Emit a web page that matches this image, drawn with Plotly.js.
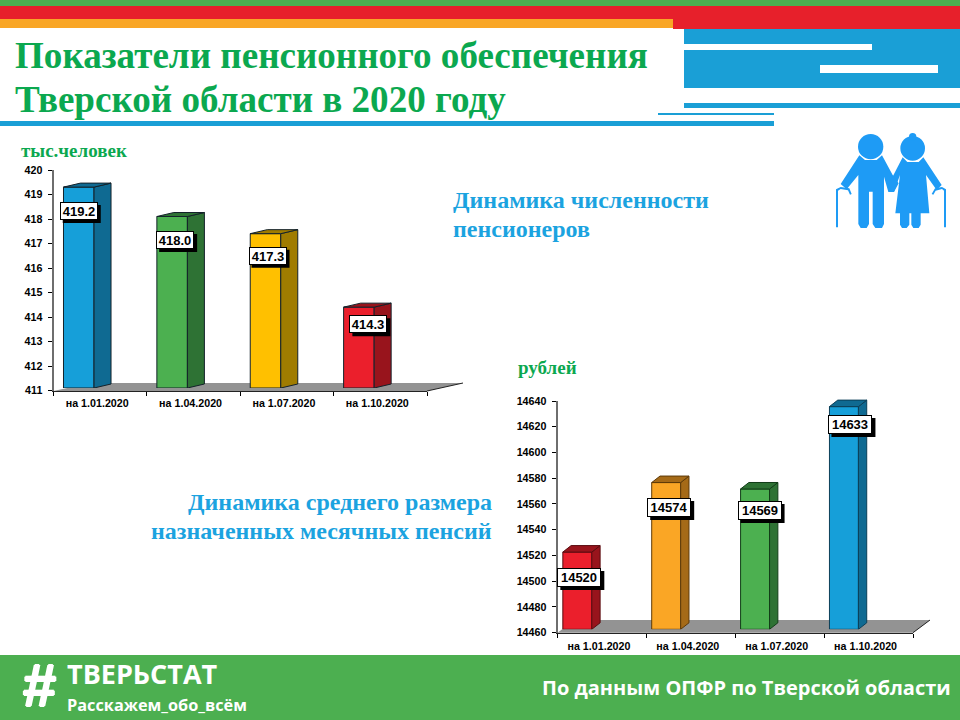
<!DOCTYPE html>
<html><head><meta charset="utf-8">
<script src="https://cdn.plot.ly/plotly-3.0.1.min.js"></script>
<style>html,body{margin:0;padding:0;background:#fff}#c{width:960px;height:720px}</style>
</head><body><div id="c"></div>
<script>
// ---- data ----
const categories = ['на 1.01.2020','на 1.04.2020','на 1.07.2020','на 1.10.2020'];
const pensioners = [419.2,418.0,417.3,414.3];
const pensionerLabels = ['419.2','418.0','417.3','414.3'];
const pensions = [14520,14574,14569,14633];
const pensionLabels = ['14520','14574','14569','14633'];
const pensionersTicks = [411,412,413,414,415,416,417,418,419,420];
const pensionsTicks = [14460,14480,14500,14520,14540,14560,14580,14600,14620,14640];

// ---- styling / layout ----
const W=960,H=720;
const px=x=>x/W, py=y=>1-y/H;
const dom=(top,bot)=>[py(bot),py(top)];
const C1={front:['#169FD9','#4CB050','#FFC000','#EB1F2C'],side:['#0F6A92','#2E7234','#A07C00','#98141C'],edge:['#14222a','#14222a','#14222a','#14222a'],
  labelDx:[0,3,2,9.5],labelDy:[24,23.5,22,17]};
const C2={front:['#EB1F2C','#FAA625','#4CB050','#169FD9'],side:['#98141C','#A56A17','#2E7234','#0F6A92'],edge:['#5a0c10','#5e3a08','#123d18','#0b3f58'],
  labelDx:[2,3,4.5,6.5],labelDy:[25.5,25,21.5,18]};
const G1={xL:53.5,xR:427,yT:170,yB:390.5,base:388,top:150,lo:411,hi:420,barOff:-0.393,barW:0.327,dxPx:17,dyPx:4,boxW:38,boxH:18};
const G2={xL:557.5,xR:913,yT:401,yB:632.7,base:629.3,top:390,lo:14460,hi:14640,barOff:-0.44,barW:0.326,dxPx:8.3,dyPx:6.5,boxW:44,boxH:19};
const tickFont={family:'Liberation Sans',size:10.7,color:'#000',weight:'bold'};

const traces=[],shapes=[],annotations=[];
const layout={width:W,height:H,margin:{l:0,r:0,t:0,b:0},showlegend:false,paper_bgcolor:'#fff',plot_bgcolor:'rgba(0,0,0,0)',hovermode:false};

function chart(G,C,values,labels,ticks,ids){
  const [xc,xl,yv,yh]=ids; // category x, linear x, visible y, hidden y
  const xk=a=>'xaxis'+a.slice(1), yk=a=>'yaxis'+a.slice(1);
  const catW=(G.xR-G.xL)/categories.length;
  const sc=(G.yB-G.yT)/(G.hi-G.lo);
  layout[xk(xc)]={type:'category',categoryorder:'array',categoryarray:categories,range:[-0.5,3.5],domain:[px(G.xL),px(G.xR)],anchor:yv,
    tickson:'boundaries',ticks:'outside',ticklen:4,tickwidth:1,tickcolor:'#000',showline:true,linecolor:'#222',linewidth:1,showgrid:false,tickfont:tickFont,ticklabelstandoff:3,ticklabelshift:-3,fixedrange:true,zeroline:false};
  layout[xk(xl)]={type:'linear',range:[-0.5,3.5],domain:[px(G.xL),px(G.xR)],anchor:yh,visible:false,fixedrange:true};
  layout[yk(yv)]={type:'linear',range:[G.lo,G.hi],domain:dom(G.yT,G.yB),anchor:xc,tickvals:ticks,ticktext:ticks.map(String),ticks:'outside',ticklen:4,tickwidth:1,tickcolor:'#000',
    showline:true,linecolor:'#6e6e6e',linewidth:2,showgrid:false,zeroline:false,tickfont:tickFont,ticklabelstandoff:3,fixedrange:true};
  layout[yk(yh)]={type:'linear',range:[G.lo,G.lo+(G.base-G.top)/sc],domain:dom(G.top,G.base),anchor:xl,visible:false,fixedrange:true};
  // keeps the visible axes alive
  traces.push({type:'scatter',mode:'markers',x:categories,y:values,xaxis:xc,yaxis:yv,marker:{opacity:0,size:1},hoverinfo:'skip'});
  // front faces
  traces.push({type:'bar',x:categories,y:values.map(v=>v-G.lo),base:G.lo,offset:G.barOff,width:G.barW,xaxis:xc,yaxis:yh,
    marker:{color:C.front,line:{color:C.edge,width:1}},hoverinfo:'skip'});
  const dx=G.dxPx/catW, dy=G.dyPx/sc;
  values.forEach((v,i)=>{
    const l=i+G.barOff, r=l+G.barW;
    traces.push({type:'scatter',mode:'lines',fill:'toself',fillcolor:C.side[i],line:{color:C.edge[i],width:1},xaxis:xl,yaxis:yh,hoverinfo:'skip',
      x:[r,r+dx,r+dx,r,r],y:[G.lo,G.lo+dy,v+dy,v,G.lo]});
    traces.push({type:'scatter',mode:'lines',fill:'toself',fillcolor:C.side[i],line:{color:C.edge[i],width:1},xaxis:xl,yaxis:yh,hoverinfo:'skip',
      x:[l,l+dx,r+dx,r,l],y:[v,v+dy,v+dy,v,v]});
    const cx=i+G.barOff+G.barW/2+C.labelDx[i]/catW, cy=v-C.labelDy[i]/sc;
    shapes.push({type:'rect',xref:xl,yref:yh,xsizemode:'pixel',ysizemode:'pixel',xanchor:cx,yanchor:cy,
      x0:-G.boxW/2+3,x1:G.boxW/2+3,y0:-G.boxH/2-3,y1:G.boxH/2-3,fillcolor:'#000',line:{width:0},layer:'above'});
    annotations.push({xref:xl,yref:yh,x:cx,y:cy,text:labels[i],showarrow:false,xanchor:'center',yanchor:'middle',
      bgcolor:'#fff',bordercolor:'#000',borderwidth:1,borderpad:0,width:G.boxW-2,height:G.boxH-2,align:'center',valign:'middle',
      font:{family:'Liberation Sans',size:13,color:'#000',weight:'bold'}});
  });
}
chart(G1,C1,pensioners,pensionerLabels,pensionersTicks,['x','x2','y','y2']);
chart(G2,C2,pensions,pensionLabels,pensionsTicks,['x3','x4','y3','y4']);

// ---- decoration ----
const rect=(x0,y0,x1,y1,c)=>shapes.push({type:'rect',xref:'paper',yref:'paper',x0:px(x0),x1:px(x1),y0:py(y0),y1:py(y1),fillcolor:c,line:{width:0},layer:'below'});
const poly=(pts,c,extra)=>shapes.push(Object.assign({type:'path',xref:'paper',yref:'paper',
  path:'M'+pts.map(p=>px(p[0])+','+py(p[1])).join('L')+'Z',fillcolor:c,line:{width:0},layer:'below'},extra||{}));
const GREEN='#4CAF50',RED='#E7202B',ORANGE='#F9A626',BLUE='#1A9FD6',TITLE='#0BA84F',LBL='#1BA3E0',ICON='#1E9BF5';
rect(0,0,960,6,GREEN);
rect(0,6,960,19,RED);
rect(673,19,960,29,RED);
rect(0,19,673,28,ORANGE);
rect(684,29,960,88,BLUE);
rect(684,44,872,50,'#fff');
rect(820,65,938,73,'#fff');
rect(684,103,960,108,BLUE);
rect(658,113,774,115,BLUE);
rect(0,121,774,126,BLUE);
rect(0,655,960,720,GREEN);
// floors
poly([[G1.xL,391],[G1.xR,391],[463,383],[90,383]],'#939393');
poly([[G2.xL,632.7],[G2.xR,632.7],[930,620],[574.5,620]],'#939393');
shapes.push({type:'path',xref:'paper',yref:'paper',path:`M${px(G1.xR)},${py(391)}L${px(463)},${py(383)}`,line:{color:'#222',width:1},layer:'below'});
shapes.push({type:'path',xref:'paper',yref:'paper',path:`M${px(G2.xR)},${py(632.7)}L${px(930)},${py(620)}`,line:{color:'#222',width:1},layer:'below'});

// icon
const z=(x,y)=>[820+x/3,120+y/3];
const zp=a=>a.map(p=>z(p[0],p[1]));
const circ=(cx,cy,r)=>{const [a,b]=z(cx,cy);const R=r/3;shapes.push({type:'circle',xref:'paper',yref:'paper',x0:px(a-R),x1:px(a+R),y0:py(b+R),y1:py(b-R),fillcolor:ICON,line:{width:0},layer:'below'});};
circ(152,80,38);circ(278,85,37);circ(278,50,11);
poly(zp([[118,106],[135,120],[170,120],[186,106],[218,165],[236,190],[222,216],[205,216],[192,170],[192,312],[186,324],[166,324],[158,312],[158,215],[147,215],[147,312],[140,324],[122,324],[115,312],[115,165],[80,208],[62,192]]),ICON);
poly(zp([[248,112],[262,126],[296,126],[310,112],[365,195],[350,210],[318,165],[328,280],[302,280],[302,314],[296,324],[280,324],[274,314],[274,280],[268,280],[268,314],[260,324],[246,324],[240,314],[240,280],[226,280],[240,165],[222,215],[205,195]]),ICON);
poly(zp([[48,322],[54,322],[54,212],[62,207],[84,211],[90,224],[95,222],[88,205],[62,201],[48,208]]),ICON);
poly(zp([[372,322],[378,322],[378,208],[366,201],[345,205],[335,222],[340,224],[347,212],[366,207],[372,212]]),ICON);

// ---- texts ----
const T=(text,x,y,font,xa)=>annotations.push({xref:'paper',yref:'paper',x:px(x),y:py(y),text,showarrow:false,xanchor:xa||'left',yanchor:'middle',align:xa||'left',font});
const serif=(size,color)=>({family:'Liberation Serif',size,color,weight:'bold'});
const sans=(size)=>({family:'Open Sans',size,color:'#fff',weight:'bold'});
T('Показатели пенсионного обеспечения',13,56,serif(37.1,TITLE));
T('Тверской области в 2020 году',13,100,serif(37.1,TITLE));
T('тыс.человек',19,150,serif(19,TITLE));
T('рублей',516,367,serif(19,TITLE));
T('Динамика численности',451,200,serif(24,LBL));
T('пенсионеров',451,229,serif(24,LBL));
T('Динамика среднего размера',494,502,serif(24,LBL),'right');
T('назначенных месячных пенсий',494,531,serif(24,LBL),'right');
T('#',20,685,{family:'Liberation Sans',size:60,color:'#fff',weight:'bold',style:'italic',shadow:'1px 0 0 #fff,-1px 0 0 #fff,0 1px 0 #fff,0 -1px 0 #fff'});
T('ТВЕРЬСТАТ',65,673,sans(27));
T('Расскажем_обо_всём',65,705,sans(16.3));
T('По данным ОПФР по Тверской области',953,687,sans(20),'right');

layout.shapes=shapes;layout.annotations=annotations;
Plotly.newPlot('c',traces,layout,{displayModeBar:false,staticPlot:true});
</script></body></html>
